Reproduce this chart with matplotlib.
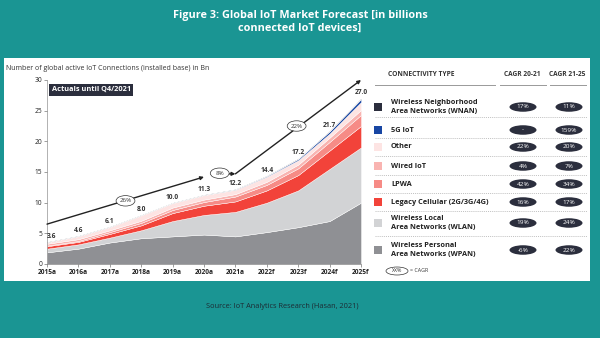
import matplotlib
matplotlib.use("Agg")
import matplotlib.pyplot as plt
from matplotlib.patches import Rectangle, Ellipse
import numpy as np

plt.rcParams['font.family'] = ['Open Sans', 'DejaVu Sans']

# ---- data ----
years = ["2015a", "2016a", "2017a", "2018a", "2019a", "2020a", "2021a",
         "2022f", "2023f", "2024f", "2025f"]
totals = [3.6, 4.6, 6.1, 8.0, 10.0, 11.3, 12.2, 14.4, 17.2, 21.7, 27.0]

wpan = [1.9, 2.5, 3.5, 4.2, 4.5, 4.8, 4.5, 5.2, 6.0, 7.0, 10.0]
wlan = [0.6, 0.7, 0.8, 1.3, 2.5, 3.2, 4.0, 4.8, 6.0, 8.5, 9.0]
legacy = [0.4, 0.4, 0.6, 0.8, 1.3, 1.5, 1.7, 2.0, 2.5, 3.0, 3.5]
lpwa = [0.1, 0.15, 0.3, 0.4, 0.5, 0.6, 0.8, 0.9, 1.1, 1.4, 1.8]
wired = [0.3, 0.3, 0.3, 0.35, 0.4, 0.4, 0.4, 0.5, 0.6, 0.7, 0.8]
other = [0.25, 0.5, 0.55, 0.9, 0.75, 0.75, 0.7, 0.84, 0.73, 0.67, 1.3]
g5 = [0, 0, 0, 0, 0, 0, 0.05, 0.1, 0.2, 0.35, 0.5]
wnan = [0.05, 0.05, 0.05, 0.05, 0.05, 0.05, 0.05, 0.06, 0.07, 0.08, 0.1]

# CAGR trend arrows (year position, value)
trend1 = ([2015, 2020], [6.5, 14.2])
trend2 = ([2020.75, 2021], [14.7, 14.7])
trend3 = ([2021, 2025], [14.7, 30.0])
cagr_bubbles = [(2017.5, 10.3, "26%"), (2020.5, 14.8, "8%"), (2022.95, 22.5, "22%")]

legend_names = ["Wireless Neighborhood\nArea Networks (WNAN)", "5G IoT", "Other",
                "Wired IoT", "LPWA", "Legacy Cellular (2G/3G/4G)",
                "Wireless Local\nArea Networks (WLAN)",
                "Wireless Personal\nArea Networks (WPAN)"]
legend_colors = ["#2b2e3d", "#1846a3", "#fde4e3", "#f9b4b1", "#f68b86",
                 "#f2433a", "#d2d3d5", "#8f9094"]
cagr_2021 = ["17%", "-", "22%", "4%", "42%", "16%", "19%", "-6%"]
cagr_2125 = ["11%", "159%", "20%", "7%", "34%", "17%", "24%", "22%"]

teal = "#1a9593"
dark = "#2b2e3d"

fig = plt.figure(figsize=(6, 3.38), dpi=100)
fig.patch.set_facecolor(teal)

# background overlay in pixel coords
bg = fig.add_axes([0, 0, 1, 1], zorder=0)
bg.set_xlim(0, 600)
bg.set_ylim(338, 0)
bg.axis("off")
bg.add_patch(Rectangle((4, 58), 586, 223, facecolor="white", edgecolor="none"))

bg.text(300, 22, "Figure 3: Global IoT Market Forecast [in billions\nconnected IoT devices]",
        ha="center", va="center", color="white", fontsize=7.8, fontweight="bold",
        linespacing=1.25)
bg.text(282, 306, "Source: IoT Analytics Research (Hasan, 2021)", ha="center",
        va="center", color="#1d2a33", fontsize=5.3)
bg.text(6, 68, "Number of global active IoT Connections (installed base) in Bn",
        ha="left", va="center", color="#333333", fontsize=5)

# ---- chart ----
ax = fig.add_axes([47 / 600, 1 - 264 / 338, 314 / 600, 184 / 338], zorder=1)
ax.patch.set_alpha(0)
x = np.arange(2015, 2026)
ax.stackplot(x, wpan, wlan, legacy, lpwa, wired, other, g5, wnan,
             colors=legend_colors[::-1], edgecolor="white", linewidth=0.3)
ax.set_xlim(2015, 2025)
ax.set_ylim(0, 30)
ax.set_xticks(x)
ax.set_xticklabels(years)
ax.set_yticks(range(0, 31, 5))
ax.tick_params(labelsize=4.8, length=2, width=0.4, colors="#555555", pad=1.5,
               labelcolor="#222222")
for lab in ax.get_xticklabels():
    lab.set_fontweight("bold")
for s in ["top", "right"]:
    ax.spines[s].set_visible(False)
for s in ["left", "bottom"]:
    ax.spines[s].set_linewidth(0.4)
    ax.spines[s].set_color("#777777")

for xi, t in zip(x, totals):
    ax.text(xi + 0.15 if xi == 2015 else xi, t + 0.9, f"{t:.1f}", ha="center",
            va="center", fontsize=4.8, fontweight="bold", color="#333333")

arrow = dict(arrowstyle="-|>", color="#222222", lw=1.0, mutation_scale=5,
             shrinkA=0, shrinkB=0)
for tr in (trend1, trend2, trend3):
    ax.annotate("", xy=(tr[0][1], tr[1][1]), xytext=(tr[0][0], tr[1][0]),
                arrowprops=arrow)
for bx, by, lab in cagr_bubbles:
    ax.add_patch(Ellipse((bx, by), 0.6, 1.7, facecolor="white",
                         edgecolor="#333333", lw=0.5, zorder=4))
    ax.text(bx, by, lab, ha="center", va="center", fontsize=4.5,
            color="#333333", zorder=5)

ax.text(2015.15, 28.4, "Actuals until Q4/2021", ha="left", va="center",
        fontsize=5.3, fontweight="bold", color="white",
        bbox=dict(boxstyle="square,pad=0.35", facecolor=dark, edgecolor="none"))

# ---- legend table ----
bg.text(421, 75, "CONNECTIVITY TYPE", ha="center", va="center", fontsize=4.8,
        fontweight="bold", color="#333333")
bg.text(522, 75, "CAGR 20-21", ha="center", va="center", fontsize=4.7,
        fontweight="bold", color="#333333")
bg.text(567, 75, "CAGR 21-25", ha="center", va="center", fontsize=4.7,
        fontweight="bold", color="#333333")
for x0, x1 in [(375, 495), (500, 546), (550, 586)]:
    bg.plot([x0, x1], [85, 85], color="#999999", lw=0.7)

row_y = [107, 130, 147, 166, 184, 202, 223, 250]
sep_y = [117, 138, 156, 175, 193, 211, 236]
for yy in sep_y:
    bg.plot([375, 587], [yy, yy], color="#aaaaaa", lw=0.5, ls=(0, (1.5, 1.5)))
for yy, name, col, c1, c2 in zip(row_y, legend_names, legend_colors,
                                  cagr_2021, cagr_2125):
    bg.add_patch(Rectangle((374, yy - 4), 8, 8, facecolor=col, edgecolor="none"))
    bg.text(391, yy, name, ha="left", va="center", fontsize=5.3,
            fontweight="bold", color="#222222", linespacing=1.3)
    for cx, val in [(523, c1), (569, c2)]:
        bg.add_patch(Ellipse((cx, yy), 27, 9.5, facecolor=dark, edgecolor="none"))
        bg.text(cx, yy, val, ha="center", va="center", fontsize=4.6,
                color="white")

bg.add_patch(Ellipse((397, 271), 22, 8, facecolor="white", edgecolor="#333333",
                     lw=0.5))
bg.text(397, 271, "XX%", ha="center", va="center", fontsize=3.8, color="#333333")
bg.text(410, 271, "= CAGR", ha="left", va="center", fontsize=3.8, color="#333333")

fig.savefig("out.png", dpi=100, facecolor=teal)
